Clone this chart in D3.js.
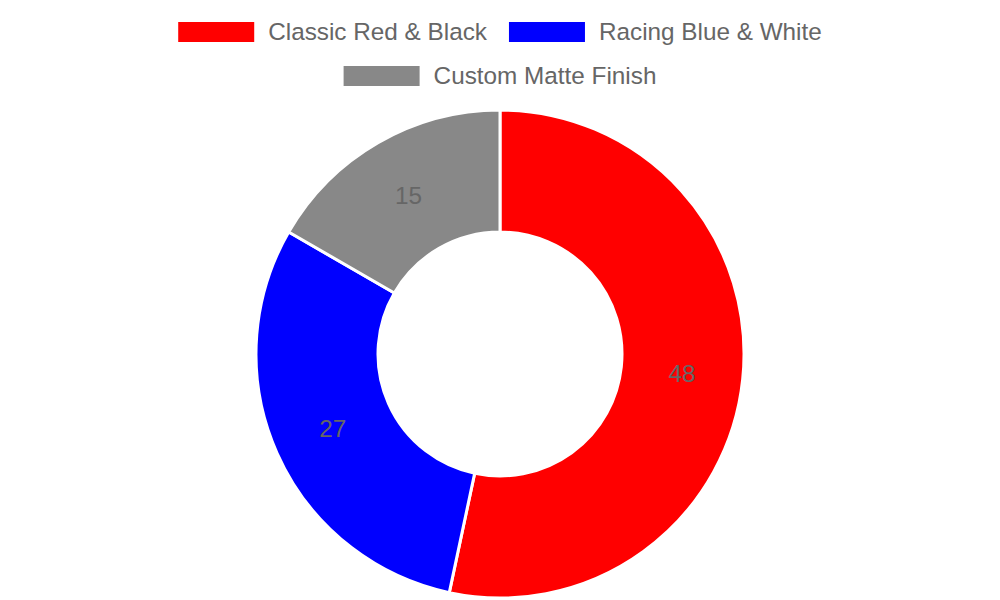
<!DOCTYPE html>
<html>
<head>
<meta charset="utf-8">
<script src="https://cdn.jsdelivr.net/npm/d3@7/dist/d3.min.js"></script>
<style>
  html, body { margin: 0; padding: 0; background: #fff; }
  svg { display: block; }
  text { font-family: "Liberation Sans", Arial, sans-serif; }
</style>
</head>
<body>
<svg id="chart" width="1000" height="600"></svg>
<script>
const categories = ["Classic Red & Black", "Racing Blue & White", "Custom Matte Finish"];
const values = [48, 27, 15];
const colors = ["#ff0000", "#0000ff", "#888888"];

const W = 1000, H = 600;
const svg = d3.select("#chart");
const fontSize = 24.3;
const textColor = "#666666";

// Legend
const boxW = 76, boxH = 20, boxGap = 14, itemGap = 22, maxRowWidth = 700;
const rowsY = [32, 76];
const legend = svg.append("g");
const measure = legend.append("text").attr("font-size", fontSize);
const items = categories.map((c, i) => {
  measure.text(c);
  const tw = measure.node().getComputedTextLength();
  return { name: c, color: colors[i], w: boxW + boxGap + tw };
});
measure.remove();
const rows = [[]];
let rw = 0;
items.forEach(it => {
  const add = (rows[rows.length - 1].length ? itemGap : 0) + it.w;
  if (rw + add > maxRowWidth && rows[rows.length - 1].length) {
    rows.push([it]); rw = it.w;
  } else { rows[rows.length - 1].push(it); rw += add; }
});
rows.forEach((row, ri) => {
  const total = d3.sum(row, d => d.w) + itemGap * (row.length - 1);
  let x = W / 2 - total / 2;
  row.forEach(it => {
    const g = legend.append("g").attr("transform", `translate(${x},${rowsY[ri]})`);
    g.append("rect").attr("x", 0).attr("y", -boxH / 2).attr("width", boxW).attr("height", boxH).attr("fill", it.color);
    g.append("text").attr("x", boxW + boxGap).attr("y", 0).attr("dy", "0.32em")
      .attr("font-size", fontSize).attr("fill", textColor).text(it.name);
    x += it.w + itemGap;
  });
});

// Doughnut
const cx = 500, cy = 354, outerR = 244, innerR = 122;
const pie = d3.pie().sort(null).value(d => d)(values);
const arc = d3.arc().innerRadius(innerR).outerRadius(outerR);
const g = svg.append("g").attr("transform", `translate(${cx},${cy})`);
g.selectAll("path").data(pie).enter().append("path")
  .attr("d", arc)
  .attr("fill", (d, i) => colors[i])
  .attr("stroke", "#ffffff")
  .attr("stroke-width", 3)
  .attr("stroke-linejoin", "bevel");

const labelArc = d3.arc().innerRadius((innerR + outerR) / 2).outerRadius((innerR + outerR) / 2);
g.selectAll("text.val").data(pie).enter().append("text")
  .attr("class", "val")
  .attr("transform", d => `translate(${labelArc.centroid(d)})`)
  .attr("text-anchor", "middle").attr("dy", "0.35em")
  .attr("font-size", fontSize).attr("fill", textColor)
  .text(d => d.data);
</script>
</body>
</html>
